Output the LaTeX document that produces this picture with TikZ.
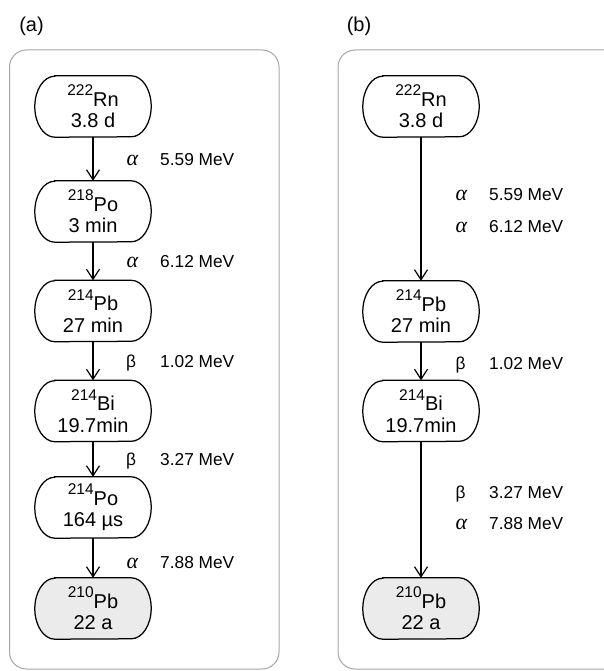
\documentclass[tikz,border=0pt]{standalone}
\usepackage{fontspec}
\setmainfont{Liberation Sans}
\newfontfamily\greekserif{Liberation Serif}
\usetikzlibrary{arrows.meta,backgrounds}
\newcommand\isotope[2]{\raisebox{10.5pt}{\fontsize{15.5}{15.5}\selectfont #1}#2}
\newcommand\galpha{{\greekserif\itshape\fontsize{22}{22}\selectfont α}}
% capsule outline around a named node (elliptic ends)
\newcommand\capsule[2][]{%
  \begin{scope}[on background layer]
  \draw[capline,#1] ([xshift=20pt]#2.north west) -- ([xshift=-20pt]#2.north east)
     arc[start angle=90,end angle=-90,x radius=20pt,y radius=30.5pt]
     -- ([xshift=20pt]#2.south west)
     arc[start angle=270,end angle=90,x radius=20pt,y radius=30.5pt] -- cycle;
  \end{scope}}
\begin{document}
\begin{tikzpicture}[x=1pt,y=-1pt,
 nuc/.style={minimum width=116pt, minimum height=61pt, align=center, font=\fontsize{20}{21.5}\selectfont, inner sep=0pt},
 capline/.style={draw, line width=1.25pt},
 stablefill/.style={fill=black!8},
 frame/.style={draw=black!35, line width=1pt, rounded corners=17pt},
 decay/.style={-{Straight Barb[length=10pt,width=13pt,line width=1.2pt]}, line width=1.2pt},
 ptype/.style={anchor=base, font=\fontsize{17.3}{17.3}\selectfont, inner sep=0pt},
 energy/.style={anchor=base west, font=\fontsize{17.3}{17.3}\selectfont, inner sep=0pt},
 panel/.style={anchor=base, font=\fontsize{20}{20}\selectfont, inner sep=0pt}]
\useasboundingbox (0,0) rectangle (603,671);

% panel labels
\node[panel] (la) at (31.5,32) {(a)};
\node[panel] (lb) at (359,32) {(b)};

% frames
\draw[frame] (9.5,50) rectangle (279,669);
\draw[frame] (604,50) -- (338,50) -- (338,669) -- (604,669);

% panel (a)
\node[nuc] (a1) at (93,106.5) {\isotope{222}{Rn}\\3.8 d};
\node[nuc] (a2) at (93,211.5) {\isotope{218}{Po}\\3 min};
\node[nuc] (a3) at (93,311) {\isotope{214}{Pb}\\27 min};
\node[nuc] (a4) at (93,411) {\isotope{214}{Bi}\\19.7min};
\node[nuc] (a5) at (93,507.5) {\isotope{214}{Po}\\164 µs};
\node[nuc] (a6) at (93,608.5) {\isotope{210}{Pb}\\22 a};
\capsule{a1}\capsule{a2}\capsule{a3}\capsule{a4}\capsule{a5}
\capsule[stablefill]{a6}

\draw[decay] (a1) -- (a2);
\draw[decay] (a2) -- (a3);
\draw[decay] (a3) -- (a4);
\draw[decay] (a4) -- (a5);
\draw[decay] (a5) -- (a6);

\node[ptype] (ta1) at (132.5,166) {\galpha};
\node[energy] (ea1) at (160,166) {5.59 MeV};
\node[ptype] (ta2) at (132.5,267) {\galpha};
\node[energy] (ea2) at (160,267) {6.12 MeV};
\node[ptype] (ta3) at (131,367) {β};
\node[energy] (ea3) at (160,367) {1.02 MeV};
\node[ptype] (ta4) at (131,465) {β};
\node[energy] (ea4) at (160,465) {3.27 MeV};
\node[ptype] (ta5) at (132.5,568) {\galpha};
\node[energy] (ea5) at (160,568) {7.88 MeV};

% panel (b)
\node[nuc] (b1) at (421,106.5) {\isotope{222}{Rn}\\3.8 d};
\node[nuc] (b2) at (421,311.5) {\isotope{214}{Pb}\\27 min};
\node[nuc] (b3) at (421,411) {\isotope{214}{Bi}\\19.7min};
\node[nuc] (b4) at (421,608.5) {\isotope{210}{Pb}\\22 a};
\capsule{b1}\capsule{b2}\capsule{b3}
\capsule[stablefill]{b4}

\draw[decay] (b1) -- (b2);
\draw[decay] (b2) -- (b3);
\draw[decay] (b3) -- (b4);

\node[ptype] (tb1) at (461.5,200) {\galpha};
\node[energy] (eb1) at (489,200) {5.59 MeV};
\node[ptype] (tb2) at (461.5,232) {\galpha};
\node[energy] (eb2) at (489,232) {6.12 MeV};
\node[ptype] (tb3) at (460.5,369) {β};
\node[energy] (eb3) at (489,369) {1.02 MeV};
\node[ptype] (tb4) at (460.5,498) {β};
\node[energy] (eb4) at (489,498) {3.27 MeV};
\node[ptype] (tb5) at (461.5,529) {\galpha};
\node[energy] (eb5) at (489,529) {7.88 MeV};
\end{tikzpicture}
\end{document}
